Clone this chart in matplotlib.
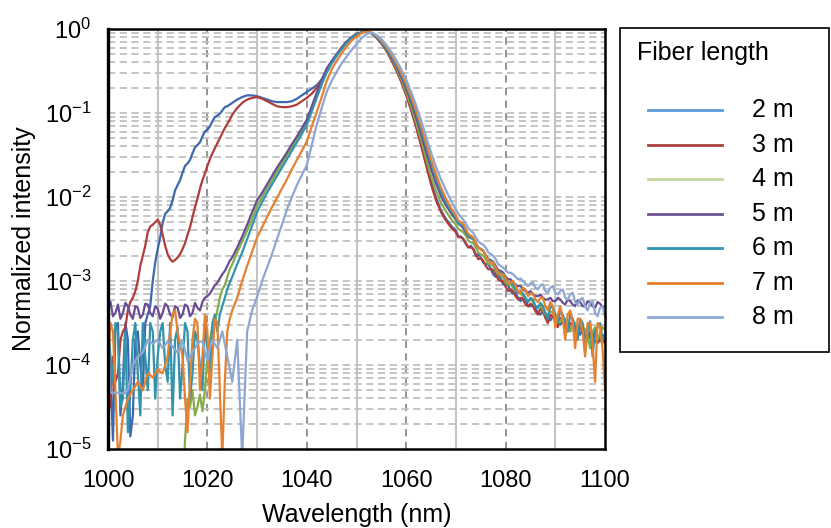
import numpy as np
import matplotlib
matplotlib.use("Agg")
import matplotlib.pyplot as plt
from matplotlib.lines import Line2D
from matplotlib.patches import Rectangle
from matplotlib.ticker import FixedLocator, NullFormatter

plt.rcParams['font.family'] = ['Liberation Sans', 'DejaVu Sans']
plt.rcParams['mathtext.fontset'] = 'custom'
plt.rcParams['mathtext.rm'] = 'Liberation Sans'
plt.rcParams['mathtext.it'] = 'Liberation Sans'

# wavelength grid (nm), 1 nm steps from 1000 to 1100
wavelength = np.arange(1000, 1101, 1)
# extra half-nm sample points in the noisy regions
wavelength_mid = np.concatenate([np.arange(1000.5, 1025, 1), np.arange(1070.5, 1100, 1)])

# log10 of normalized intensity
log_i_2m = [-3.6, -4.9, -3.5, -4.2, -3.7, -4.6, -3.6, -4.3, -3.4, -3.0,
            -2.62, -2.31, -2.17, -2.04, -1.86, -1.71, -1.6, -1.48, -1.38, -1.28,
            -1.2, -1.1, -1.03, -0.97, -0.92, -0.88, -0.84, -0.81, -0.79, -0.79,
            -0.8, -0.82, -0.84, -0.86, -0.87, -0.87, -0.87, -0.86, -0.83, -0.79,
            -0.75, -0.71, -0.67, -0.6, -0.5, -0.4, -0.31, -0.23, -0.16, -0.1,
            -0.06, -0.04, -0.03, -0.05, -0.1, -0.17, -0.25, -0.36, -0.48, -0.62,
            -0.77, -0.95, -1.15, -1.37, -1.6, -1.82, -2.01, -2.16, -2.26, -2.34,
            -2.4, -2.47, -2.56, -2.58, -2.7, -2.72, -2.8, -2.85, -2.95, -2.97,
            -3.05, -3.12, -3.14, -3.24, -3.22, -3.3, -3.32, -3.4, -3.38, -3.47,
            -3.44, -3.52, -3.5, -3.6, -3.55, -3.64, -3.58, -3.68, -3.62, -3.72,
            -3.66]
log_i_2m_mid = [-4.1, -3.55, -4.6, -3.5, -4.85, -3.7, -4.0, -3.5, -3.3, -2.78,
                -2.48, -2.2, -2.13, -1.92, -1.8, -1.63, -1.56, -1.41, -1.35, -1.22,
                -1.16, -1.05, -1.01, -0.93, -0.9,
                -2.47, -2.5, -2.6, -2.62, -2.68, -2.78, -2.8, -2.92, -2.93, -3.04,
                -3.05, -3.15, -3.2, -3.2, -3.3, -3.28, -3.38, -3.36, -3.45, -3.42,
                -3.5, -3.48, -3.58, -3.52, -3.62, -3.56, -3.66, -3.6, -3.7, -3.64]
log_i_3m = [-4.3, -3.9, -4.1, -3.6, -3.35, -3.2, -3.0, -2.7, -2.42, -2.33,
            -2.27, -2.45, -2.68, -2.77, -2.72, -2.62, -2.45, -2.24, -2.02, -1.8,
            -1.63, -1.48, -1.36, -1.24, -1.13, -1.02, -0.94, -0.88, -0.84, -0.82,
            -0.81, -0.83, -0.86, -0.89, -0.92, -0.93, -0.93, -0.92, -0.9, -0.86,
            -0.82, -0.77, -0.7, -0.61, -0.5, -0.4, -0.31, -0.23, -0.16, -0.1,
            -0.06, -0.04, -0.03, -0.05, -0.1, -0.17, -0.26, -0.37, -0.49, -0.63,
            -0.79, -0.97, -1.17, -1.39, -1.62, -1.85, -2.04, -2.18, -2.28, -2.36,
            -2.42, -2.48, -2.55, -2.6, -2.68, -2.73, -2.82, -2.86, -2.92, -3.0,
            -3.07, -3.1, -3.18, -3.2, -3.28, -3.27, -3.36, -3.33, -3.44, -3.4,
            -3.48, -3.44, -3.56, -3.5, -3.6, -3.55, -3.66, -3.6, -3.72, -3.65,
            -3.75]
log_i_3m_mid = [-4.5, -4.2, -3.7, -3.55, -3.25, -3.12, -2.82, -2.58, -2.35, -2.3,
                -2.33, -2.58, -2.74, -2.75, -2.68, -2.55, -2.36, -2.12, -1.9, -1.72,
                -1.55, -1.42, -1.3, -1.18, -1.08,
                -2.48, -2.5, -2.6, -2.62, -2.74, -2.76, -2.86, -2.87, -2.98, -3.0,
                -3.12, -3.12, -3.22, -3.22, -3.3, -3.3, -3.4, -3.36, -3.5, -3.42,
                -3.55, -3.48, -3.6, -3.52, -3.65, -3.58, -3.7, -3.62, -3.74, -3.68]
log_i_4m = [-5.5, -5.5, -5.5, -5.5, -5.5, -5.5, -5.5, -5.5, -5.5, -5.5,
            -5.5, -5.5, -5.5, -5.5, -5.5, -5.5, -4.4, -4.3, -4.5, -4.55,
            -3.9, -3.55, -3.35, -3.1, -2.95, -2.8, -2.66, -2.53, -2.4, -2.26,
            -2.11, -2.0, -1.9, -1.8, -1.7, -1.6, -1.5, -1.41, -1.31, -1.21,
            -1.11, -0.95, -0.79, -0.63, -0.49, -0.39, -0.31, -0.23, -0.16, -0.1,
            -0.06, -0.04, -0.03, -0.05, -0.1, -0.16, -0.25, -0.35, -0.46, -0.6,
            -0.75, -0.92, -1.11, -1.32, -1.54, -1.75, -1.93, -2.07, -2.17, -2.26,
            -2.33, -2.4, -2.46, -2.54, -2.6, -2.68, -2.74, -2.8, -2.88, -2.93,
            -3.02, -3.04, -3.12, -3.15, -3.2, -3.22, -3.3, -3.3, -3.4, -3.36,
            -3.42, -3.48, -3.45, -3.6, -3.5, -3.52, -3.58, -3.8, -3.55, -3.62,
            -3.58]
log_i_4m_mid = [-5.5, -5.5, -5.5, -5.5, -5.5, -5.5, -5.5, -5.5, -5.5, -5.5,
                -5.5, -5.5, -5.5, -5.5, -5.5, -4.9, -4.5, -4.6, -4.35, -4.3,
                -3.7, -3.5, -3.2, -3.05, -2.86,
                -2.38, -2.42, -2.52, -2.55, -2.66, -2.7, -2.8, -2.82, -2.92, -2.96,
                -3.04, -3.08, -3.14, -3.18, -3.24, -3.25, -3.3, -3.34, -3.4, -3.38,
                -3.5, -3.44, -3.56, -3.5, -3.58, -3.54, -3.65, -3.6, -3.7, -3.55]
log_i_5m = [-3.3, -3.42, -3.28, -3.38, -3.3, -3.45, -3.32, -3.4, -3.28, -3.42,
            -3.33, -3.38, -3.3, -3.43, -3.32, -3.4, -3.3, -3.38, -3.32, -3.25,
            -3.18, -3.1, -3.02, -2.92, -2.82, -2.72, -2.6, -2.47, -2.33, -2.18,
            -2.04, -1.95, -1.85, -1.75, -1.65, -1.56, -1.47, -1.37, -1.28, -1.18,
            -1.08, -0.92, -0.76, -0.6, -0.47, -0.38, -0.3, -0.22, -0.15, -0.1,
            -0.06, -0.04, -0.03, -0.05, -0.1, -0.16, -0.24, -0.34, -0.44, -0.57,
            -0.71, -0.87, -1.05, -1.25, -1.46, -1.66, -1.84, -1.99, -2.1, -2.19,
            -2.27, -2.34, -2.42, -2.49, -2.55, -2.62, -2.69, -2.75, -2.82, -2.88,
            -2.95, -2.98, -3.04, -3.06, -3.12, -3.12, -3.18, -3.16, -3.22, -3.2,
            -3.24, -3.22, -3.28, -3.24, -3.3, -3.25, -3.3, -3.26, -3.32, -3.27,
            -3.3]
log_i_5m_mid = [-3.25, -3.38, -3.45, -3.26, -3.4, -3.3, -3.44, -3.27, -3.38, -3.3,
                -3.45, -3.27, -3.4, -3.3, -3.44, -3.28, -3.42, -3.26, -3.35, -3.2,
                -3.15, -3.05, -2.97, -2.88, -2.76,
                -2.32, -2.37, -2.47, -2.5, -2.6, -2.64, -2.74, -2.77, -2.87, -2.9,
                -2.98, -3.02, -3.06, -3.1, -3.14, -3.16, -3.18, -3.2, -3.22, -3.24,
                -3.2, -3.26, -3.22, -3.28, -3.23, -3.3, -3.24, -3.3, -3.25, -3.31]
log_i_6m = [-3.5, -4.2, -3.6, -4.4, -4.8, -3.7, -4.1, -3.5, -4.3, -3.6,
            -3.9, -3.5, -4.2, -4.6, -3.55, -4.0, -3.6, -4.1, -3.7, -4.3,
            -3.8, -3.5, -3.6, -3.3, -3.1, -2.95, -2.8, -2.66, -2.5, -2.34,
            -2.18, -2.06, -1.95, -1.85, -1.75, -1.65, -1.55, -1.45, -1.35, -1.25,
            -1.14, -0.98, -0.82, -0.66, -0.52, -0.41, -0.32, -0.24, -0.17, -0.11,
            -0.07, -0.04, -0.03, -0.05, -0.09, -0.15, -0.23, -0.32, -0.42, -0.54,
            -0.68, -0.83, -1.0, -1.19, -1.39, -1.59, -1.78, -1.94, -2.06, -2.16,
            -2.25, -2.33, -2.4, -2.48, -2.55, -2.62, -2.7, -2.76, -2.85, -2.9,
            -2.98, -3.02, -3.1, -3.12, -3.2, -3.2, -3.3, -3.26, -3.38, -3.3,
            -3.4, -3.35, -3.5, -3.4, -3.55, -3.45, -3.85, -3.48, -3.6, -3.5,
            -3.65]
log_i_6m_mid = [-3.9, -3.5, -4.5, -3.6, -4.3, -3.5, -4.6, -3.9, -3.5, -4.4,
                -3.6, -4.0, -3.5, -3.7, -4.4, -3.5, -4.4, -3.6, -4.0, -3.5,
                -4.1, -3.4, -3.4, -3.2, -3.02,
                -2.31, -2.34, -2.46, -2.5, -2.6, -2.64, -2.75, -2.78, -2.9, -2.92,
                -3.02, -3.04, -3.14, -3.15, -3.25, -3.22, -3.32, -3.3, -3.45, -3.32,
                -3.5, -3.4, -3.6, -3.45, -3.7, -3.5, -3.6, -3.9, -3.55, -3.7]
log_i_7m = [-4.0, -3.6, -5.1, -4.6, -4.4, -4.3, -4.2, -4.3, -4.1, -4.15,
            -4.05, -4.1, -3.9, -3.4, -3.6, -3.9, -4.8, -3.7, -3.5, -3.9,
            -3.6, -3.9, -3.5, -5.1, -3.6, -3.35, -3.2, -3.0, -2.82, -2.65,
            -2.48, -2.36, -2.24, -2.12, -2.01, -1.9, -1.79, -1.67, -1.56, -1.45,
            -1.34, -1.16, -0.99, -0.81, -0.62, -0.48, -0.38, -0.29, -0.21, -0.14,
            -0.09, -0.05, -0.03, -0.04, -0.08, -0.14, -0.21, -0.3, -0.4, -0.52,
            -0.65, -0.8, -0.97, -1.15, -1.35, -1.55, -1.73, -1.89, -2.02, -2.13,
            -2.22, -2.3, -2.38, -2.46, -2.55, -2.63, -2.7, -2.78, -2.84, -2.92,
            -2.97, -3.02, -3.05, -3.15, -3.1, -3.15, -3.22, -3.2, -3.3, -3.25,
            -3.55, -3.3, -3.7, -3.35, -3.8, -3.45, -3.9, -3.5, -4.2, -3.55,
            -4.3]
log_i_7m_mid = [-3.5, -4.3, -4.9, -4.5, -4.35, -4.25, -4.25, -4.2, -4.12, -4.1,
                -4.08, -4.0, -3.6, -3.35, -3.75, -4.4, -4.2, -3.45, -4.3, -3.4,
                -4.4, -3.45, -4.3, -4.2, -3.45,
                -2.28, -2.32, -2.44, -2.48, -2.6, -2.64, -2.76, -2.78, -2.9, -2.92,
                -3.02, -3.0, -3.12, -3.08, -3.18, -3.15, -3.25, -3.2, -3.35, -3.3,
                -3.4, -3.45, -3.4, -3.5, -3.45, -3.6, -3.5, -3.75, -3.5, -3.8]
log_i_8m = [-3.5, -4.33, -4.33, -4.34, -4.3, -4.0, -3.9, -3.85, -3.7, -3.75,
            -3.7, -3.8, -3.72, -3.78, -3.85, -3.7, -3.95, -3.85, -3.75, -3.72,
            -3.95, -3.7, -3.8, -3.6, -3.9, -4.2, -3.7, -5.1, -3.6, -3.35,
            -3.19, -3.0, -2.84, -2.68, -2.5, -2.33, -2.15, -2.0, -1.86, -1.74,
            -1.62, -1.38, -1.14, -0.94, -0.75, -0.62, -0.51, -0.41, -0.33, -0.25,
            -0.18, -0.11, -0.06, -0.04, -0.07, -0.12, -0.19, -0.27, -0.37, -0.48,
            -0.6, -0.75, -0.91, -1.09, -1.28, -1.47, -1.64, -1.79, -1.92, -2.04,
            -2.15, -2.24, -2.32, -2.4, -2.48, -2.55, -2.6, -2.68, -2.74, -2.82,
            -2.87, -2.9, -2.95, -2.97, -3.03, -3.03, -3.08, -3.05, -3.12, -3.08,
            -3.14, -3.12, -3.2, -3.16, -3.25, -3.22, -3.3, -3.26, -3.38, -3.32,
            -3.42]
log_i_8m_mid = [-4.33, -4.33, -4.33, -4.33, -4.15, -3.95, -3.88, -3.78, -3.72, -3.72,
                -3.75, -3.76, -3.75, -3.82, -3.78, -3.82, -3.9, -3.8, -3.72, -3.85,
                -3.8, -3.75, -3.7, -3.75, -4.05,
                -2.2, -2.27, -2.37, -2.43, -2.53, -2.57, -2.66, -2.7, -2.8, -2.84,
                -2.9, -2.92, -2.98, -3.0, -3.06, -3.02, -3.1, -3.04, -3.14, -3.06,
                -3.16, -3.1, -3.22, -3.14, -3.28, -3.2, -3.35, -3.24, -3.42, -3.3]

series_labels = ['2 m', '3 m', '4 m', '5 m', '6 m', '7 m', '8 m']
series_logs = [log_i_2m, log_i_3m, log_i_4m, log_i_5m, log_i_6m, log_i_7m, log_i_8m]
series_mids = [log_i_2m_mid, log_i_3m_mid, log_i_4m_mid, log_i_5m_mid,
               log_i_6m_mid, log_i_7m_mid, log_i_8m_mid]
line_colors = ['#3d68ad', '#b03d3a', '#86ad4a', '#6a4d93', '#3193ad', '#e6812f', '#8ea7d2']
legend_colors = ['#5b9bd5', '#a9413f', '#c3d69b', '#6f5496', '#2e94b0', '#e57f2f', '#8aa8d6']

x_ticks = [1000, 1020, 1040, 1060, 1080, 1100]
y_ticks = [1e0, 1e-1, 1e-2, 1e-3, 1e-4, 1e-5]
y_tick_labels = [r'$\mathrm{10^{0}}$', r'$\mathrm{10^{-1}}$', r'$\mathrm{10^{-2}}$',
                 r'$\mathrm{10^{-3}}$', r'$\mathrm{10^{-4}}$', r'$\mathrm{10^{-5}}$']

fig = plt.figure(figsize=(8.31, 5.28), dpi=100)
ax = fig.add_axes([108/831, 1 - 449/528, (605 - 108)/831, (449 - 29)/528])

ax.set_xlim(1000, 1100)
ax.set_yscale('log')
ax.set_ylim(1e-5, 1e0)

# grid
for xv in range(1010, 1100, 20):
    ax.axvline(xv, color='#c4c4c4', lw=1.5, zorder=0)
for xv in range(1020, 1100, 20):
    ax.axvline(xv, color='#8a8a8a', lw=1.3, ls=(0, (4, 3)), zorder=0)
for dec in range(-5, 0):
    for m in range(1, 10):
        v = m * 10.0 ** dec
        if 1e-5 < v < 1:
            ax.axhline(v, color='#c0c0c0', lw=1.3, ls=(0, (4, 2.5)), zorder=0)

for lab, lg, md, col in zip(series_labels, series_logs, series_mids, line_colors):
    wl_all = np.concatenate([wavelength, wavelength_mid])
    lg_all = np.concatenate([np.array(lg), np.array(md)])
    order = np.argsort(wl_all)
    ax.plot(wl_all[order], 10.0 ** lg_all[order], color=col, lw=1.6, label=lab, zorder=2)

ax.set_xticks(x_ticks)
ax.set_xticklabels([str(t) for t in x_ticks])
ax.yaxis.set_major_locator(FixedLocator(y_ticks))
ax.set_yticklabels(y_tick_labels)
ax.yaxis.set_minor_formatter(NullFormatter())
ax.tick_params(axis='both', which='both', length=0, labelsize=17, colors='black')
ax.tick_params(axis='y', pad=12)
ax.tick_params(axis='x', pad=15)
for sp in ax.spines.values():
    sp.set_color('black')
    sp.set_linewidth(1.8)
ax.spines['left'].set_linewidth(2.4)

ax.set_xlabel('Wavelength (nm)', fontsize=18, labelpad=8)
ax.set_ylabel('Normalized intensity', fontsize=18, labelpad=6)

# legend drawn in figure coordinates
fig.patches.append(Rectangle((620/831, 1 - 352/528), 209/831, 324/528,
                             transform=fig.transFigure, fill=False,
                             edgecolor='black', lw=1.2))
fig.text(637/831, 1 - 53/528, 'Fiber length', fontsize=18, ha='left', va='center')
row_y = [110, 145, 179, 214, 248, 283, 317]
for lab, col, yy in zip(series_labels, legend_colors, row_y):
    fy = 1 - yy/528
    fig.lines.append(Line2D([648/831, 722/831], [fy, fy], transform=fig.transFigure,
                            color=col, lw=2))
    fig.text(752/831, fy, lab, fontsize=18, ha='left', va='center')

fig.savefig('out.png', dpi=100)
